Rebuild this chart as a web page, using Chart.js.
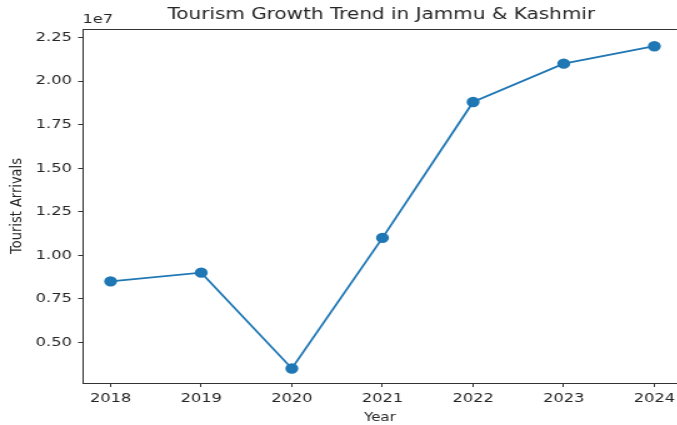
<!DOCTYPE html>
<html>
<head>
<meta charset="utf-8">
<script src="https://cdn.jsdelivr.net/npm/chart.js@4"></script>
<style>
  body { margin: 0; background: #fff; overflow: hidden; }
  /* the reference picture is stretched sideways, so the chart is too;
     the canvas is a little wider than the window so the plot runs off the right edge */
  #wrap { width: 548px; height: 425px; transform: scaleX(1.25); transform-origin: 0 0; }
</style>
</head>
<body>
<div id="wrap"><canvas id="tourismChart" width="548" height="425"></canvas></div>
<script>
const years = [2018, 2019, 2020, 2021, 2022, 2023, 2024];
const arrivals = [8500000, 9000000, 3500000, 11000000, 18800000, 21000000, 22000000];
const yTicks = [5000000, 7500000, 10000000, 12500000, 15000000, 17500000, 20000000, 22500000];

const FONT = "'DejaVu Sans', sans-serif";
const TEXT = "#262626";

// title, offset text and top spine drawn like matplotlib
const extras = {
    id: "extras",
    afterDraw(chart) {
        const ctx = chart.ctx;
        const area = chart.chartArea;
        ctx.save();
        ctx.strokeStyle = "#333";
        ctx.lineWidth = 1;
        ctx.beginPath();
        ctx.moveTo(area.left, area.top + 0.5);
        ctx.lineTo(area.right, area.top + 0.5);
        ctx.stroke();

        ctx.fillStyle = TEXT;
        ctx.font = "16px " + FONT;
        ctx.textAlign = "center";
        ctx.textBaseline = "middle";
        ctx.fillText("Tourism Growth Trend in Jammu & Kashmir", 305, 15);

        ctx.font = "13px " + FONT;
        ctx.textAlign = "left";
        ctx.fillText("1e7", area.left, 20);
        ctx.restore();
    }
};

const ctx = document.getElementById("tourismChart").getContext("2d");

new Chart(ctx, {
    type: "line",
    data: {
        datasets: [{
            label: "Tourist Arrivals",
            data: years.map((y, i) => ({ x: y, y: arrivals[i] })),
            borderColor: "#1f77b4",
            backgroundColor: "#1f77b4",
            borderWidth: 1.8,
            pointRadius: 4.3,
            pointHoverRadius: 4.3,
            tension: 0
        }]
    },
    options: {
        responsive: false,
        animation: false,
        layout: { padding: { top: 29, right: 0, left: 0, bottom: 0 } },
        plugins: {
            legend: { display: false },
            tooltip: { enabled: false }
        },
        scales: {
            x: {
                type: "linear",
                min: 2017.69,
                max: 2024.254,
                afterBuildTicks: (scale) => { scale.ticks = years.map(v => ({ value: v })); },
                afterFit: (scale) => { scale.height = 42; },
                grid: { drawOnChartArea: false, tickLength: 4, tickColor: "#333" },
                border: { color: "#333", width: 1 },
                ticks: {
                    color: TEXT,
                    font: { family: FONT, size: 13 },
                    padding: 4,
                    maxRotation: 0,
                    callback: (v) => String(v)
                },
                title: {
                    display: true,
                    text: "Year",
                    color: TEXT,
                    font: { family: FONT, size: 12 },
                    padding: { top: 0, bottom: 0 }
                }
            },
            y: {
                min: 2665000,
                max: 22990000,
                afterBuildTicks: (scale) => { scale.ticks = yTicks.map(v => ({ value: v })); },
                afterFit: (scale) => { scale.width = 66; },
                grid: { drawOnChartArea: false, tickLength: 3.5, tickColor: "#333" },
                border: { color: "#333", width: 1 },
                ticks: {
                    color: TEXT,
                    font: { family: FONT, size: 13 },
                    padding: 5,
                    callback: (v) => (v / 1e7).toFixed(2)
                },
                title: {
                    display: true,
                    text: "Tourist Arrivals",
                    color: TEXT,
                    font: { family: FONT, size: 13 },
                    padding: { top: 6, bottom: 0 }
                }
            }
        }
    },
    plugins: [extras]
});
</script>
</body>
</html>
